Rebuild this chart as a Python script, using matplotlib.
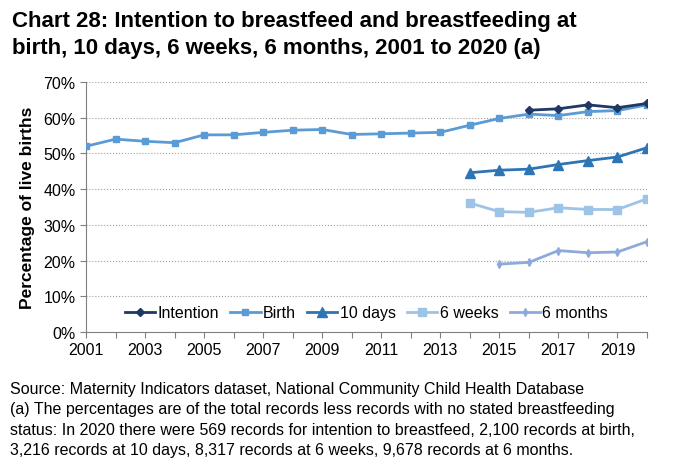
import matplotlib.pyplot as plt
from matplotlib.ticker import FuncFormatter, MultipleLocator

years = list(range(2001, 2021))
birth = [52.0, 54.0, 53.4, 53.0, 55.2, 55.2, 55.9, 56.5, 56.7, 55.3,
         55.5, 55.7, 55.9, 57.9, 59.8, 61.0, 60.6, 61.7, 62.0, 63.6]
intention_years = [2016, 2017, 2018, 2019, 2020]
intention = [62.1, 62.5, 63.6, 62.8, 64.0]
days10_years = [2014, 2015, 2016, 2017, 2018, 2019, 2020]
days10 = [44.6, 45.3, 45.6, 46.9, 48.0, 49.0, 51.6]
weeks6_years = [2014, 2015, 2016, 2017, 2018, 2019, 2020]
weeks6 = [36.1, 33.7, 33.5, 34.8, 34.3, 34.3, 37.3]
months6_years = [2015, 2016, 2017, 2018, 2019, 2020]
months6 = [19.0, 19.5, 22.8, 22.2, 22.4, 25.3]

plt.rcParams['font.family'] = ['Liberation Sans', 'DejaVu Sans']

fig = plt.figure(figsize=(6.73, 4.77), dpi=100)
ax = fig.add_axes([86 / 673, 1 - 333 / 477, (647 - 86) / 673, (333 - 83) / 477])

ax.plot(intention_years, intention, color='#1F3864', marker='D', markersize=4, lw=2, label='Intention', zorder=5)
ax.plot(years, birth, color='#5B9BD5', marker='s', markersize=5, lw=2, label='Birth', zorder=4)
ax.plot(days10_years, days10, color='#2E75B6', marker='^', markersize=7, lw=2, label='10 days', zorder=3)
ax.plot(weeks6_years, weeks6, color='#9DC3E6', marker='s', markersize=6, lw=2, label='6 weeks', zorder=3)
ax.plot(months6_years, months6, color='#8EA9DB', marker='d', markersize=4, lw=2, label='6 months', zorder=3)

ax.set_xlim(2001, 2020)
ax.set_ylim(0, 70)
ax.yaxis.set_major_locator(MultipleLocator(10))
ax.yaxis.set_major_formatter(FuncFormatter(lambda v, p: f'{v:.0f}%'))
ax.set_xticks(years)
ax.set_xticklabels([str(y) if (y - 2001) % 2 == 0 else '' for y in years])
ax.tick_params(axis='both', labelsize=11.5, length=4, color='#808080')
ax.grid(axis='y', linestyle=':', color='#A0A0A0', lw=0.8)
for s in ['top', 'right']:
    ax.spines[s].set_visible(False)
for s in ['left', 'bottom']:
    ax.spines[s].set_color('#808080')
ax.set_ylabel('Percentage of live births', fontsize=12.5, fontweight='bold', labelpad=6)

ax.legend(loc='lower center', bbox_to_anchor=(0.5, -0.01), ncol=5, frameon=False,
          fontsize=11.5, handlelength=1.9, handletextpad=0.15, columnspacing=0.7)

fig.text(12 / 673, 1 - 35 / 477, 'Chart 28: Intention to breastfeed and breastfeeding at\nbirth, 10 days, 6 weeks, 6 months, 2001 to 2020 (a)',
         fontsize=16, fontweight='bold', va='center', ha='left', linespacing=1.35)
fig.text(10 / 673, 1 - 420 / 477,
         'Source: Maternity Indicators dataset, National Community Child Health Database\n'
         '(a) The percentages are of the total records less records with no stated breastfeeding\n'
         'status: In 2020 there were 569 records for intention to breastfeed, 2,100 records at birth,\n'
         '3,216 records at 10 days, 8,317 records at 6 weeks, 9,678 records at 6 months.',
         fontsize=11.5, va='center', ha='left', linespacing=1.42)

fig.savefig('out.png', dpi=100)
